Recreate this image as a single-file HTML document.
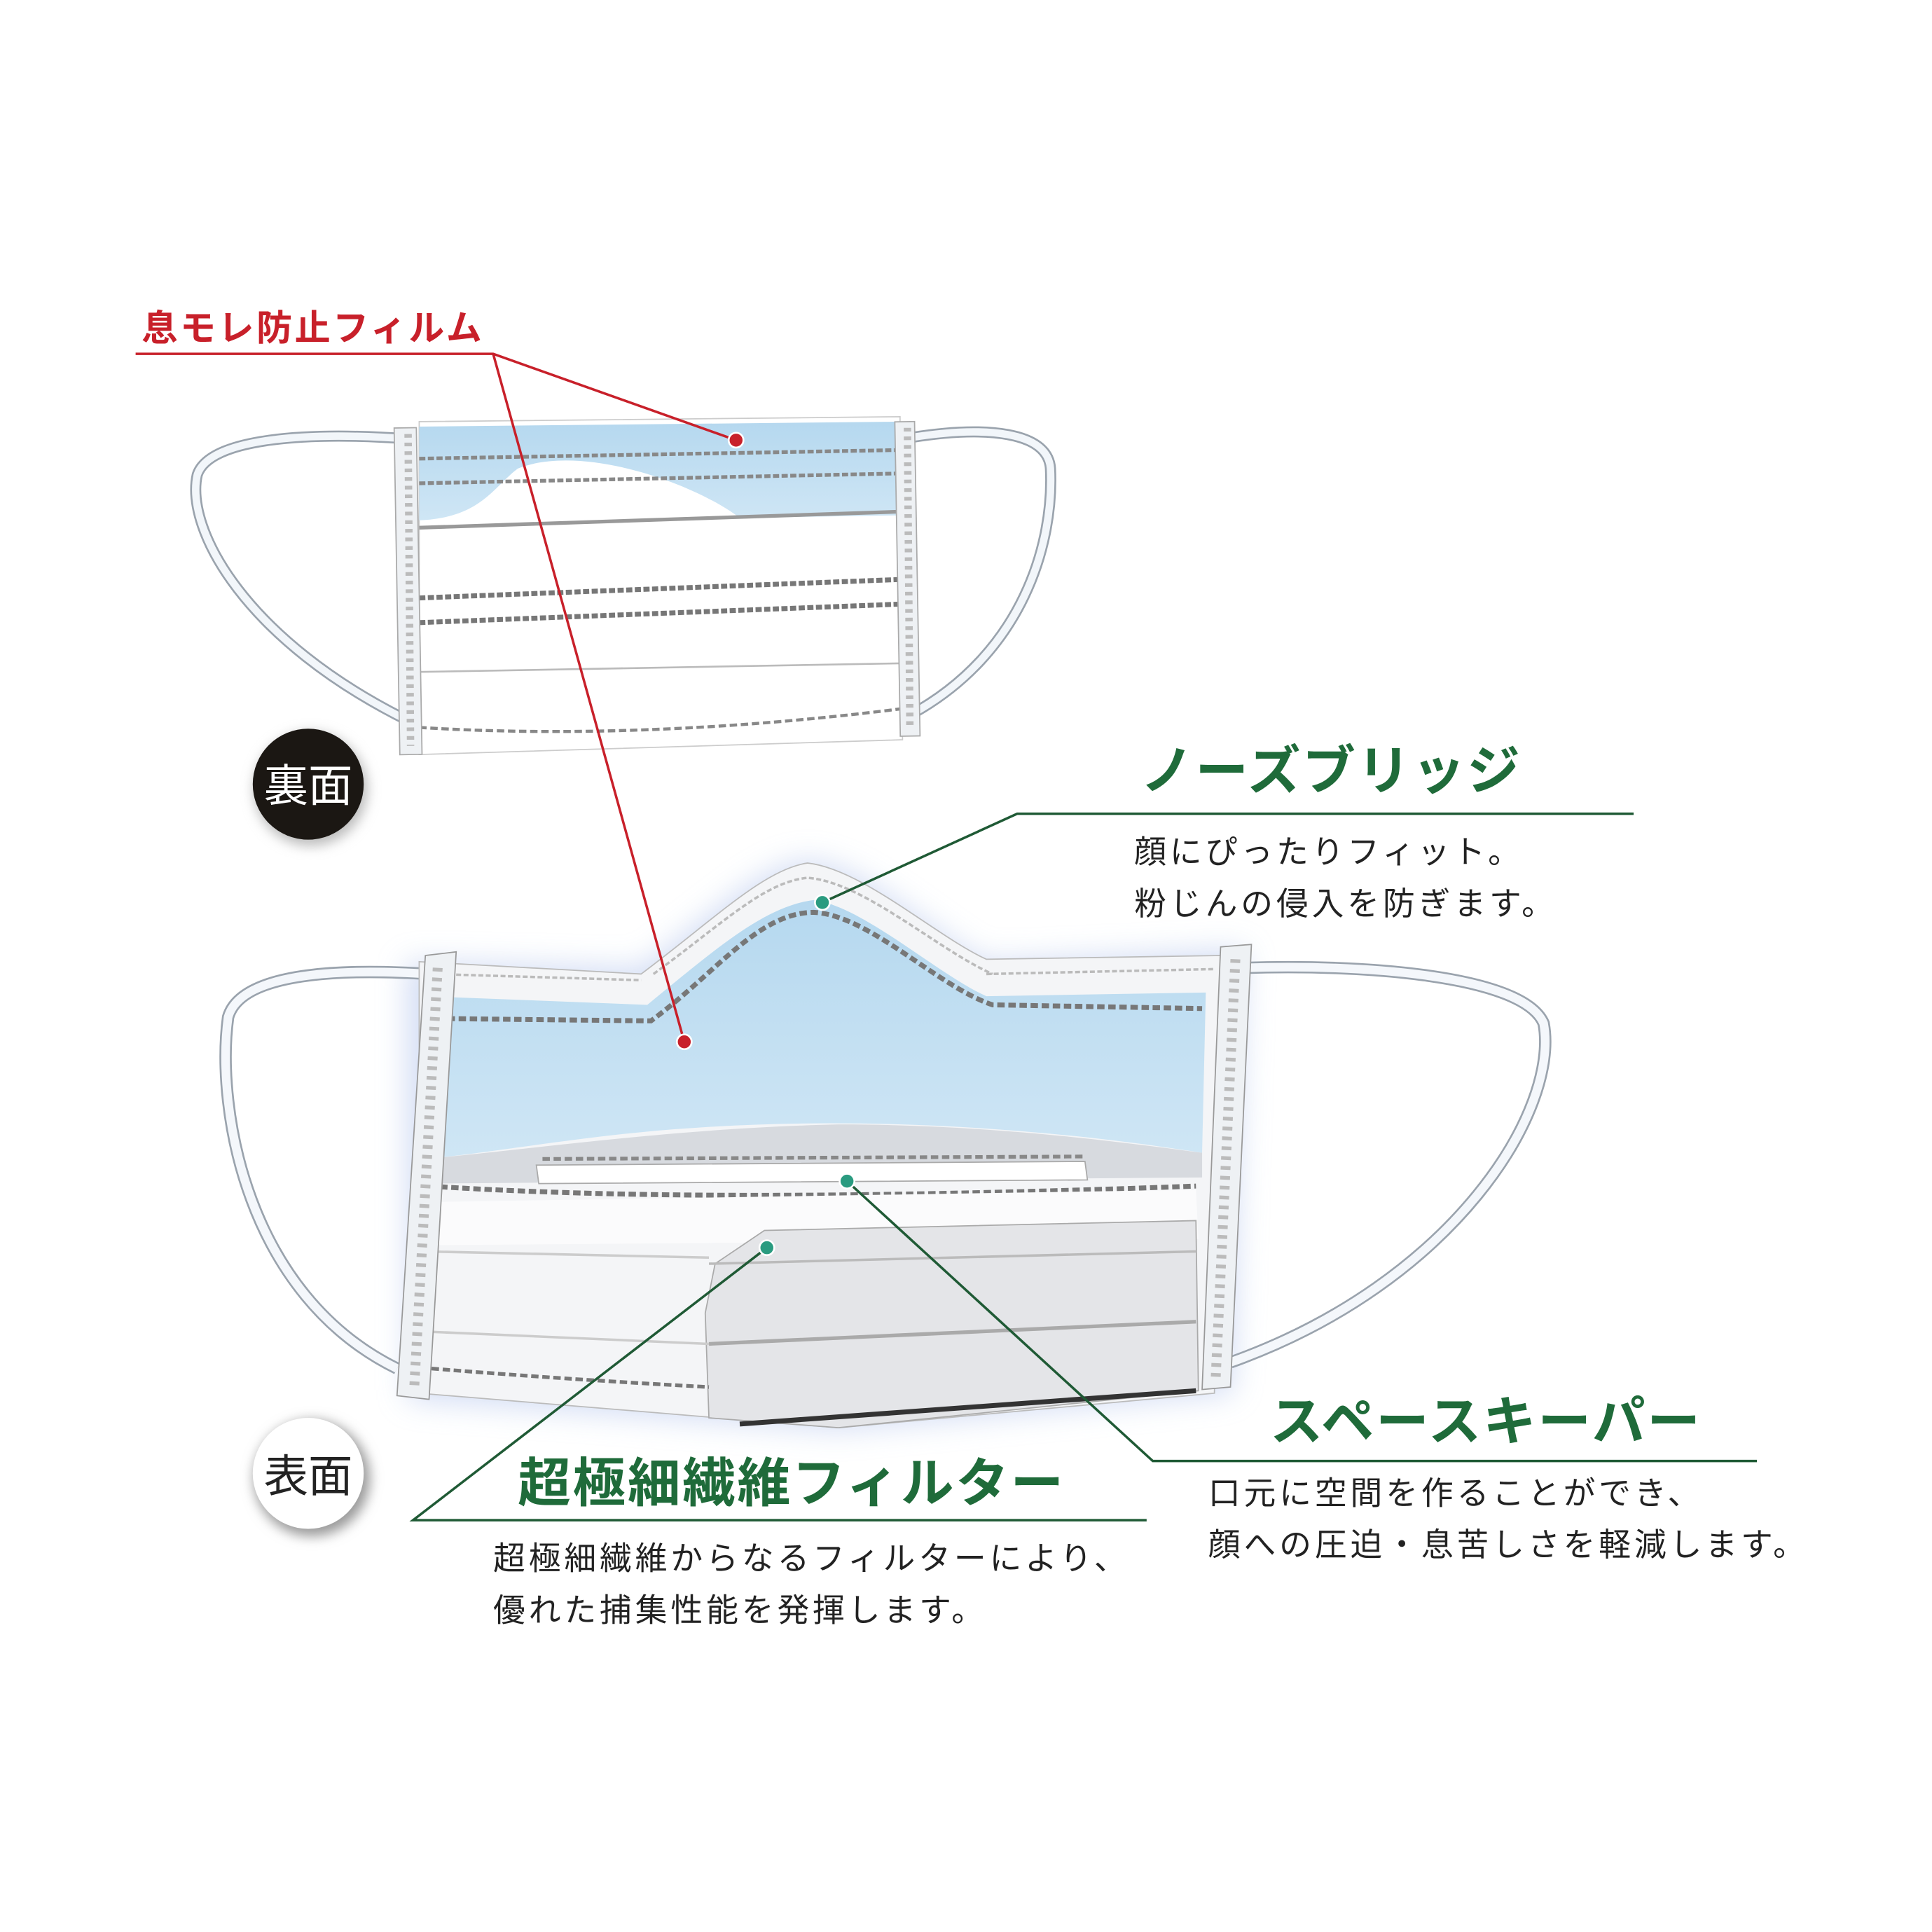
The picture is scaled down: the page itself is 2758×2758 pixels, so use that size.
<!DOCTYPE html>
<html><head><meta charset="utf-8"><style>html,body{margin:0;padding:0;background:#fff}svg{display:block}</style></head>
<body>
<svg width="2758" height="2758" viewBox="0 0 1567 1567" xmlns="http://www.w3.org/2000/svg" font-family="'Liberation Sans','Noto Sans CJK JP',sans-serif">
<defs>
<filter id="glow" x="-20%" y="-20%" width="140%" height="140%"><feGaussianBlur stdDeviation="12"/></filter>
<filter id="sh" x="-50%" y="-50%" width="200%" height="200%"><feGaussianBlur stdDeviation="5"/></filter>
<linearGradient id="bl" x1="0" y1="0" x2="0" y2="1"><stop offset="0" stop-color="#b5d8ef"/><stop offset="1" stop-color="#cfe6f5"/></linearGradient>
</defs>
<rect width="1567" height="1567" fill="#fff"/>

<path d="M332,356 C250,350 170,355 160,385 C150,430 200,520 332,585" fill="none" stroke="#9aa3ad" stroke-width="9"/>
<path d="M332,356 C250,350 170,355 160,385 C150,430 200,520 332,585" fill="none" stroke="#f2f6fa" stroke-width="6"/>
<path d="M738,355 C800,345 850,350 852,380 C855,440 830,530 738,580" fill="none" stroke="#9aa3ad" stroke-width="9"/>
<path d="M738,355 C800,345 850,350 852,380 C855,440 830,530 738,580" fill="none" stroke="#f2f6fa" stroke-width="6"/>
<path d="M340,342 L730,338 L732,600 L340,612 Z" fill="#fff" stroke="#ccc" stroke-width="1"/>
<path d="M340,346 L730,342 L730,418 L600,420 C560,390 470,360 420,380 C400,395 390,420 340,422 Z" fill="url(#bl)"/>
<path d="M340,372 L730,365" stroke="#888" stroke-width="3" stroke-dasharray="5,2"/>
<path d="M340,392 L730,384" stroke="#888" stroke-width="3" stroke-dasharray="5,2"/>
<path d="M340,428 L730,415" stroke="#999" stroke-width="3"/>
<path d="M340,485 L730,470" stroke="#777" stroke-width="4" stroke-dasharray="5,2"/>
<path d="M340,505 L730,490" stroke="#777" stroke-width="4" stroke-dasharray="5,2"/>
<path d="M340,545 L730,538" stroke="#bbb" stroke-width="1.5"/>
<path d="M340,590 C500,600 650,585 730,575" stroke="#888" stroke-width="2.5" stroke-dasharray="6,3" fill="none"/>
<rect x="322" y="347" width="18" height="265" fill="#eef1f4" stroke="#aaa" transform="rotate(-1 330 480)"/>
<line x1="331" y1="352" x2="333" y2="605" stroke="#bbb" stroke-width="6" stroke-dasharray="3,4"/>
<rect x="728" y="342" width="16" height="255" fill="#eef1f4" stroke="#aaa" transform="rotate(-1 736 470)"/>
<line x1="736" y1="347" x2="738" y2="592" stroke="#bbb" stroke-width="6" stroke-dasharray="3,4"/>

<circle cx="252" cy="640" r="46" fill="#bbb" filter="url(#sh)"/>
<circle cx="250" cy="636" r="45" fill="#1b1713"/>
<text x="250" y="650" font-size="36" fill="#fff" text-anchor="middle">裏面</text>

<path d="M330,780 L520,785 C580,740 620,700 655,698 C700,700 760,760 800,780 L1010,770 L1000,1130 L680,1160 L330,1135 Z" fill="#c9d6f2" filter="url(#glow)" opacity="0.8"/>
<path d="M348,790 C270,785 195,790 185,825 C175,900 200,1050 322,1110" fill="none" stroke="#9aa3ad" stroke-width="10"/>
<path d="M348,790 C270,785 195,790 185,825 C175,900 200,1050 322,1110" fill="none" stroke="#f4f7fb" stroke-width="7"/>
<path d="M1010,785 C1100,782 1235,790 1252,830 C1265,900 1180,1040 998,1105" fill="none" stroke="#9aa3ad" stroke-width="10"/>
<path d="M1010,785 C1100,782 1235,790 1252,830 C1265,900 1180,1040 998,1105" fill="none" stroke="#f4f7fb" stroke-width="7"/>
<path d="M340,780 L520,790 C580,745 620,705 655,700 C700,705 760,760 800,778 L990,775 L985,1130 L680,1158 L340,1130 Z" fill="#f4f5f7" stroke="#bbb"/>
<path d="M345,808 L525,815 C580,770 620,735 660,730 C700,735 760,790 800,808 L978,805 L975,935 C850,915 700,905 560,915 C480,920 400,935 345,940 Z" fill="url(#bl)"/>
<path d="M345,826 L528,828 C580,790 615,740 660,740 C705,742 760,800 805,815 L975,818" fill="none" stroke="#777" stroke-width="4" stroke-dasharray="6,3"/>
<path d="M530,790 C585,750 620,715 655,712 C700,715 760,770 805,790" fill="none" stroke="#bbb" stroke-width="2" stroke-dasharray="4,2"/>
<path d="M352,790 L520,795" stroke="#bbb" stroke-width="2" stroke-dasharray="4,2"/>
<path d="M800,790 L985,786" stroke="#bbb" stroke-width="2" stroke-dasharray="4,2"/>
<path d="M345,940 C450,930 550,915 680,912 C800,912 900,925 975,935 L975,955 L345,960 Z" fill="#d7dadf"/>
<path d="M435,945 L880,942 L882,957 L437,960 Z" fill="#fff" stroke="#aaa"/>
<path d="M440,940 L880,938" stroke="#888" stroke-width="3" stroke-dasharray="6,3"/>
<path d="M348,962 C500,972 700,972 970,962" fill="none" stroke="#777" stroke-width="4" stroke-dasharray="6,3"/>
<path d="M345,975 L970,965 L972,1005 L345,1010 Z" fill="#fbfbfc"/>
<path d="M620,998 L970,990 L972,1128 L680,1158 L575,1150 L572,1065 L580,1025 Z" fill="#e4e5e8" stroke="#aaa"/>
<path d="M575,1025 L970,1015" stroke="#bbb" stroke-width="2"/>
<path d="M575,1090 L970,1072" stroke="#aaa" stroke-width="3"/>
<path d="M600,1155 L970,1128" stroke="#333" stroke-width="4"/>
<path d="M345,1015 L575,1020" stroke="#ccc" stroke-width="2"/>
<path d="M345,1080 L575,1090" stroke="#ccc" stroke-width="2"/>
<path d="M350,1110 C450,1118 520,1122 575,1125" stroke="#777" stroke-width="3" stroke-dasharray="6,3" fill="none"/>
<path d="M345,775 L370,772 L348,1135 L322,1132 Z" fill="#eef1f4" stroke="#999"/>
<line x1="355" y1="785" x2="336" y2="1125" stroke="#bbb" stroke-width="8" stroke-dasharray="3,5"/>
<path d="M990,768 L1015,766 L998,1125 L975,1127 Z" fill="#eef1f4" stroke="#999"/>
<line x1="1002" y1="778" x2="986" y2="1118" stroke="#bbb" stroke-width="8" stroke-dasharray="3,5"/>

<circle cx="253" cy="1199" r="47" fill="#999" filter="url(#sh)"/>
<circle cx="250" cy="1195" r="45" fill="#fff"/>
<text x="250" y="1210" font-size="36" fill="#222" text-anchor="middle">表面</text>

<text x="115" y="276" font-size="29" font-weight="bold" fill="#c8202a" letter-spacing="2">息モレ防止フィルム</text>
<polyline points="110,287 400,287 597,357" fill="none" stroke="#c8202a" stroke-width="2"/>
<line x1="400" y1="287" x2="555" y2="845" stroke="#c8202a" stroke-width="2"/>
<circle cx="597" cy="357" r="6" fill="#c8202a" stroke="#fff" stroke-width="1.5"/>
<circle cx="555" cy="845" r="6" fill="#c8202a" stroke="#fff" stroke-width="1.5"/>

<g fill="#1f6b3a" font-weight="bold" font-size="43" letter-spacing="1.5">
<text x="925" y="640">ノーズブリッジ</text>
<text x="1030" y="1168">スペースキーパー</text>
<text x="420" y="1218">超極細繊維フィルター</text>
</g>
<g stroke="#1f5a35" stroke-width="2" fill="none">
<polyline points="1325,660 825,660 667,732"/>
<polyline points="1425,1185 935,1185 687,958"/>
<polyline points="930,1233 335,1233 622,1012"/>
</g>
<g fill="#2a9b80" stroke="#fff" stroke-width="1.5">
<circle cx="667" cy="732" r="6"/><circle cx="687" cy="958" r="6"/><circle cx="622" cy="1012" r="6"/>
</g>
<g fill="#222" font-size="26" letter-spacing="2.8">
<text x="920" y="700">顔にぴったりフィット。</text>
<text x="920" y="742">粉じんの侵入を防ぎます。</text>
<text x="980" y="1220">口元に空間を作ることができ、</text>
<text x="980" y="1262">顔への圧迫・息苦しさを軽減します。</text>
<text x="400" y="1273">超極細繊維からなるフィルターにより、</text>
<text x="400" y="1315">優れた捕集性能を発揮します。</text>
</g>
</svg>
</body></html>
